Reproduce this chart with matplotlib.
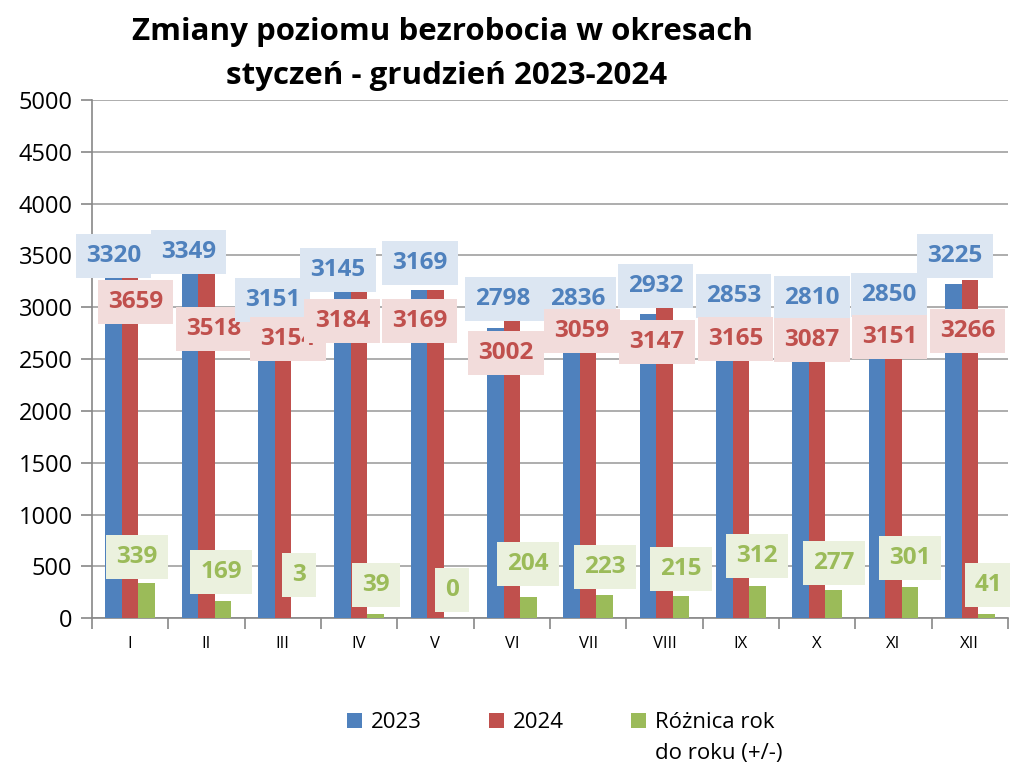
import matplotlib.pyplot as plt
import numpy as np

plt.rcParams['font.family'] = ['Open Sans', 'DejaVu Sans']

months = ['I', 'II', 'III', 'IV', 'V', 'VI', 'VII', 'VIII', 'IX', 'X', 'XI', 'XII']
y2023 = [3320, 3349, 3151, 3145, 3169, 2798, 2836, 2932, 2853, 2810, 2850, 3225]
y2024 = [3659, 3518, 3154, 3184, 3169, 3002, 3059, 3147, 3165, 3087, 3151, 3266]
diff = [339, 169, 3, 39, 0, 204, 223, 215, 312, 277, 301, 41]

# label placement (centre of each box): x shift in category units, y in data units
lab23_dx = [0.0, -0.02, 0.08, -0.06, 0.01, 0.10, 0.08, 0.10, 0.12, 0.15, 0.16, 0.02]
lab23_y = [3494, 3533, 3069, 3359, 3427, 3079, 3079, 3205, 3108, 3089, 3118, 3494]
lab24_dx = [0.07, 0.10, 0.07, -0.22, -0.21, -0.08, -0.08, -0.10, -0.07, -0.07, -0.05, -0.03]
lab24_y = [3050, 2790, 2693, 2867, 2867, 2558, 2770, 2664, 2693, 2683, 2712, 2770]
labd_dx = [-0.13, -0.02, 0.0, 0.0, 0.0, 0.0, 0.0, 0.0, 0.0, 0.0, 0.0, 0.03]
labd_y = [589, 444, 415, 319, 270, 521, 492, 473, 598, 531, 579, 319]

c23, c24, cd = '#4F81BD', '#C0504D', '#9BBB59'
b23, b24, bd = '#DCE6F2', '#F2DCDB', '#EBF1DE'

fig = plt.figure(figsize=(10.1, 7.69), dpi=100)
ax = fig.add_axes([0.091, 0.196, 0.907, 0.674])

x = np.arange(len(months))
w = 0.216
ax.bar(x - w, y2023, w, color=c23, label='2023', zorder=3)
ax.bar(x, y2024, w, color=c24, label='2024', zorder=3)
ax.bar(x + w, diff, w, color=cd, label='Różnica rok', zorder=3)

lab_kw = dict(ha='center', va='center', fontsize=17.5, fontweight='bold', zorder=5)
for i in range(len(months)):
    ax.text(x[i] - w + lab23_dx[i], lab23_y[i], str(y2023[i]), color=c23,
            bbox=dict(boxstyle='square,pad=0.42', fc=b23, ec='none'), **lab_kw)
    ax.text(x[i] + lab24_dx[i], lab24_y[i], str(y2024[i]), color=c24,
            bbox=dict(boxstyle='square,pad=0.42', fc=b24, ec='none'), **lab_kw)
    ax.text(x[i] + w + labd_dx[i], labd_y[i], str(diff[i]), color=cd,
            bbox=dict(boxstyle='square,pad=0.42', fc=bd, ec='none'), **lab_kw)

ax.set_xlim(-0.5, len(months) - 0.5)
ax.set_ylim(0, 5000)
ax.set_yticks(np.arange(0, 5001, 500))
ax.yaxis.grid(True, color='#A0A0A0', linewidth=1.2, zorder=0)
ax.set_axisbelow(True)

ax.set_xticks(x)
ax.set_xticklabels(months, fontsize=12)
ax.set_xticks(np.arange(-0.5, len(months)), minor=True)
ax.tick_params(axis='x', which='major', length=0, pad=13)
ax.tick_params(axis='x', which='minor', length=8, color='#888888', width=1.2)
ax.tick_params(axis='y', labelsize=17, length=8, color='#888888', width=1.2, pad=6)

for s in ['top', 'right']:
    ax.spines[s].set_visible(False)
for s in ['left', 'bottom']:
    ax.spines[s].set_color('#888888')
    ax.spines[s].set_linewidth(1.2)

fig.text(0.438, 0.958, 'Zmiany poziomu bezrobocia w okresach', ha='center', va='center',
         fontsize=22.5, fontweight='bold')
fig.text(0.442, 0.901, 'styczeń - grudzień 2023-2024', ha='center', va='center',
         fontsize=22.5, fontweight='bold')

leg = fig.legend(loc='center', bbox_to_anchor=(0.555, 0.06), ncol=3, frameon=False,
                 fontsize=16, handlelength=0.7, handleheight=0.7, handletextpad=0.4,
                 columnspacing=3.0)
fig.canvas.draw()
t = leg.get_texts()[2]
bb = t.get_window_extent().transformed(fig.transFigure.inverted())
fig.text(bb.x0, bb.y0 - 0.012, 'do roku (+/-)', ha='left', va='top', fontsize=16)

fig.savefig('out.png', dpi=100)
